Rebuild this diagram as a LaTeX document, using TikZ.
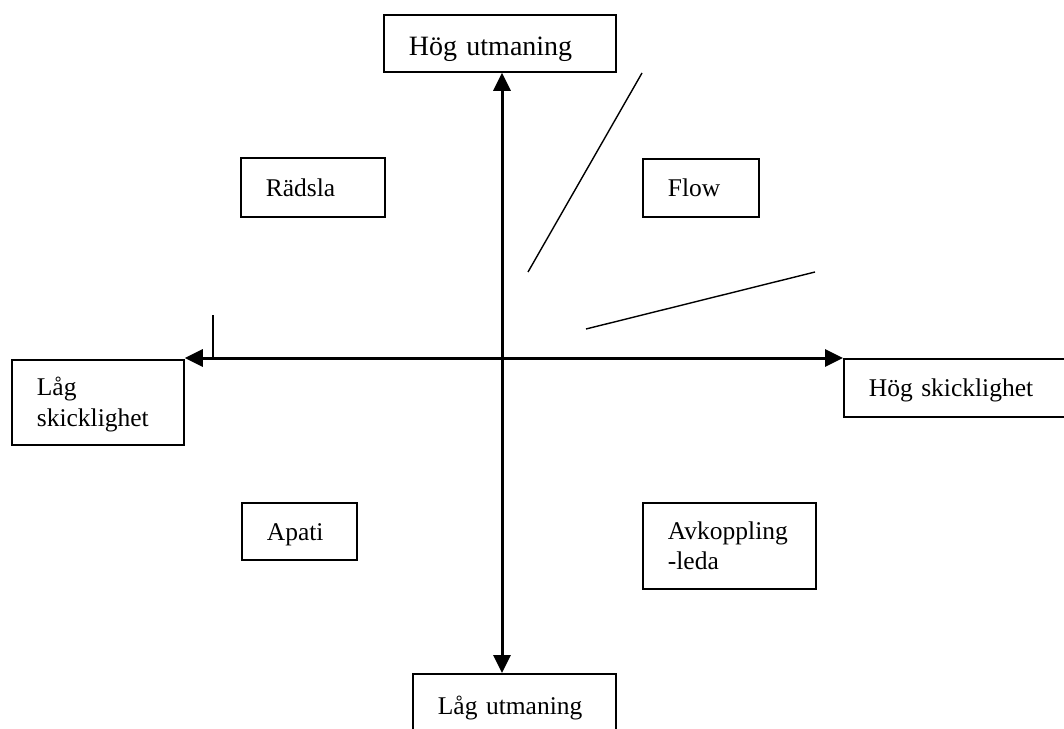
\documentclass[tikz,border=0pt]{standalone}
\usepackage{fontspec}
\setmainfont{Liberation Serif}
\usetikzlibrary{arrows.meta,calc}
\begin{document}
\begin{tikzpicture}[x=1pt,y=-1pt,
  box/.style={draw=black, line width=1.8pt, anchor=north west, inner xsep=25pt, inner ysep=0pt,
    align=left, font={\fontsize{25.5}{30.5}\selectfont\hyphenpenalty=10000}, text height=17.3pt, text depth=0pt},
  twoline/.style={text depth=30.5pt},
  axis/.style={line width=3pt, {Triangle[length=18pt,width=17pt]}-{Triangle[length=18pt,width=17pt]}},
  guide/.style={line width=1.4pt}
]
\useasboundingbox (0,0) rectangle (1064,728);
\fill[white] (0,0) rectangle (1064,728);
% axis labels
\node[box, text width=182pt, minimum height=57pt, font={\fontsize{28}{33}\selectfont}, text height=25pt] (high) at (383,14) {Hög utmaning};
\node[box, text width=153pt, minimum height=63pt] (low) at (412,673) {Låg utmaning};
\node[box, twoline, text width=122pt, minimum height=85pt] (left) at (11,359) {Låg\\skicklighet};
\node[box, text width=176pt, minimum height=58pt] (right) at (843,358) {Hög skicklighet};
% quadrants
\node[box, text width=94pt, minimum height=59pt] (fear) at (240,157) {Rädsla};
\node[box, text width=66pt, minimum height=58pt] (flow) at (642,158) {Flow};
\node[box, text width=65pt, minimum height=57pt] (apathy) at (241,502) {Apati};
\node[box, twoline, text width=123pt, minimum height=86pt] (relax) at (642,502) {Avkoppling\\-leda};
% axes
\coordinate (o) at (502,358);
\draw[axis] (o |- low.north) -- (o |- high.south);
\draw[axis] (left.north east |- o) -- (right.north west |- o);
% tick on the left axis
\coordinate (tick) at (213,315);
\draw[line width=1.5pt] (tick) -- (tick |- o);
% flow channel lines
\coordinate (a1) at (642,73);
\coordinate (a2) at (528,272);
\coordinate (b1) at (586,329);
\coordinate (b2) at (815,272);
\draw[guide] (a1) -- (a2);
\draw[guide] (b1) -- (b2);
\end{tikzpicture}
\end{document}
